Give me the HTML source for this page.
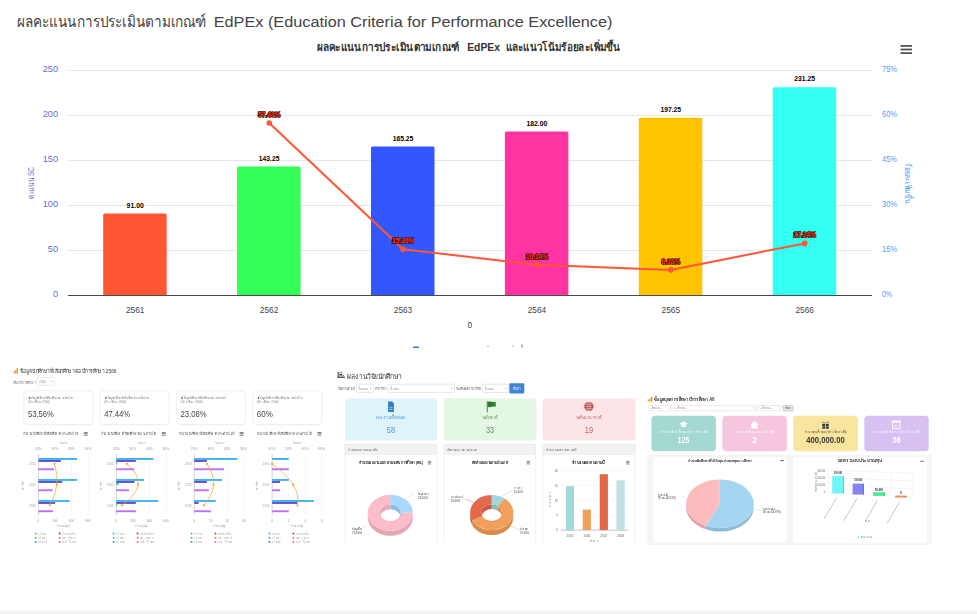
<!DOCTYPE html>
<html><head><meta charset="utf-8">
<style>
html,body{margin:0;padding:0;background:#fff;width:977px;height:614px;overflow:hidden;}
svg{display:block;font-family:"Liberation Sans",sans-serif;}
</style></head>
<body>
<svg width="977" height="614" viewBox="0 0 977 614">
<rect x="0" y="0" width="977" height="614" fill="#fff"/>
<rect x="0" y="610" width="977" height="1" fill="#f8f8f8"/>
<rect x="0" y="611" width="977" height="3" fill="#f2f2f2"/>
<g id="main">
<text x="17.2" y="27.4" font-size="15.5" fill="#444" textLength="189.3" lengthAdjust="spacingAndGlyphs">ผลคะแนนการประเมินตามเกณฑ์</text>
<text x="213.7" y="27.4" font-size="15.5" fill="#444" textLength="398.8" lengthAdjust="spacingAndGlyphs">EdPEx (Education Criteria for Performance Excellence)</text>
<text x="317.2" y="51.2" font-size="11" font-weight="bold" fill="#333" textLength="141.8" lengthAdjust="spacingAndGlyphs">ผลคะแนนการประเมินตามเกณฑ์</text>
<text x="467.2" y="51.2" font-size="11" font-weight="bold" fill="#333" textLength="32.8" lengthAdjust="spacingAndGlyphs">EdPEx</text>
<text x="505.5" y="51.2" font-size="11" font-weight="bold" fill="#333" textLength="115" lengthAdjust="spacingAndGlyphs">และแนวโน้มร้อยละเพิ่มขึ้น</text>
<g fill="#555"><rect x="900.5" y="45" width="11.5" height="1.8"/><rect x="900.5" y="48.6" width="11.5" height="1.8"/><rect x="900.5" y="52.2" width="11.5" height="1.8"/></g>
<rect x="68" y="70.0" width="804" height="1" fill="#e6e6e6"/>
<rect x="68" y="115.0" width="804" height="1" fill="#e6e6e6"/>
<rect x="68" y="160.0" width="804" height="1" fill="#e6e6e6"/>
<rect x="68" y="205.0" width="804" height="1" fill="#e6e6e6"/>
<rect x="68" y="250.0" width="804" height="1" fill="#e6e6e6"/>
<text x="58" y="72.3" font-size="9.2" fill="#6a6acd" text-anchor="end">250</text>
<text x="882" y="72.3" font-size="9.2" fill="#4d9ff5" textLength="15.0" lengthAdjust="spacingAndGlyphs">75%</text>
<text x="58" y="117.3" font-size="9.2" fill="#6a6acd" text-anchor="end">200</text>
<text x="882" y="117.3" font-size="9.2" fill="#4d9ff5" textLength="15.0" lengthAdjust="spacingAndGlyphs">60%</text>
<text x="58" y="162.3" font-size="9.2" fill="#6a6acd" text-anchor="end">150</text>
<text x="882" y="162.3" font-size="9.2" fill="#4d9ff5" textLength="15.0" lengthAdjust="spacingAndGlyphs">45%</text>
<text x="58" y="207.3" font-size="9.2" fill="#6a6acd" text-anchor="end">100</text>
<text x="882" y="207.3" font-size="9.2" fill="#4d9ff5" textLength="15.0" lengthAdjust="spacingAndGlyphs">30%</text>
<text x="58" y="252.3" font-size="9.2" fill="#6a6acd" text-anchor="end">50</text>
<text x="882" y="252.3" font-size="9.2" fill="#4d9ff5" textLength="15.0" lengthAdjust="spacingAndGlyphs">15%</text>
<text x="58" y="297.3" font-size="9.2" fill="#6a6acd" text-anchor="end">0</text>
<text x="882" y="297.3" font-size="9.2" fill="#4d9ff5" textLength="10.0" lengthAdjust="spacingAndGlyphs">0%</text>
<text transform="translate(34.2,183) rotate(-90)" font-size="8.5" fill="#6a6acd" text-anchor="middle" textLength="31.8" lengthAdjust="spacingAndGlyphs">คะแนน SC</text>
<text transform="translate(904.6,183) rotate(90)" font-size="8.5" fill="#4d9ff5" text-anchor="middle" textLength="40.5" lengthAdjust="spacingAndGlyphs">ร้อยละเพิ่มขึ้น</text>
<path d="M103.2 295.5 V214.90 Q103.2 213.40 104.7 213.40 H165.2 Q166.7 213.40 166.7 214.90 V295.5 Z" fill="#ff5733"/>
<path d="M237.1 295.5 V167.88 Q237.1 166.38 238.6 166.38 H299.1 Q300.6 166.38 300.6 167.88 V295.5 Z" fill="#33ff57"/>
<path d="M371.0 295.5 V148.08 Q371.0 146.58 372.5 146.58 H433.0 Q434.5 146.58 434.5 148.08 V295.5 Z" fill="#3357ff"/>
<path d="M504.9 295.5 V133.00 Q504.9 131.50 506.4 131.50 H566.9 Q568.4 131.50 568.4 133.00 V295.5 Z" fill="#ff33a1"/>
<path d="M638.8 295.5 V119.28 Q638.8 117.78 640.3 117.78 H700.8 Q702.3 117.78 702.3 119.28 V295.5 Z" fill="#ffc300"/>
<path d="M772.7 295.5 V88.68 Q772.7 87.18 774.2 87.18 H834.7 Q836.2 87.18 836.2 88.68 V295.5 Z" fill="#33fff3"/>
<rect x="68" y="295" width="804" height="1" fill="#4a4a4a"/>
<text x="135.2" y="312.6" font-size="8.3" fill="#444" text-anchor="middle">2561</text>
<text x="269.1" y="312.6" font-size="8.3" fill="#444" text-anchor="middle">2562</text>
<text x="403.0" y="312.6" font-size="8.3" fill="#444" text-anchor="middle">2563</text>
<text x="536.9" y="312.6" font-size="8.3" fill="#444" text-anchor="middle">2564</text>
<text x="670.8" y="312.6" font-size="8.3" fill="#444" text-anchor="middle">2565</text>
<text x="804.7" y="312.6" font-size="8.3" fill="#444" text-anchor="middle">2566</text>
<text x="469.7" y="328" font-size="8.3" fill="#444" text-anchor="middle">0</text>
<text x="135.2" y="207.6" font-size="7.5" font-weight="bold" fill="#000" text-anchor="middle" stroke="#fff" stroke-width="1.5" paint-order="stroke" textLength="17.2" lengthAdjust="spacingAndGlyphs">91.00</text>
<text x="269.1" y="160.6" font-size="7.5" font-weight="bold" fill="#000" text-anchor="middle" stroke="#fff" stroke-width="1.5" paint-order="stroke" textLength="20.7" lengthAdjust="spacingAndGlyphs">143.25</text>
<text x="403.0" y="140.8" font-size="7.5" font-weight="bold" fill="#000" text-anchor="middle" stroke="#fff" stroke-width="1.5" paint-order="stroke" textLength="20.7" lengthAdjust="spacingAndGlyphs">165.25</text>
<text x="536.9" y="125.7" font-size="7.5" font-weight="bold" fill="#000" text-anchor="middle" stroke="#fff" stroke-width="1.5" paint-order="stroke" textLength="20.7" lengthAdjust="spacingAndGlyphs">182.00</text>
<text x="670.8" y="112.0" font-size="7.5" font-weight="bold" fill="#000" text-anchor="middle" stroke="#fff" stroke-width="1.5" paint-order="stroke" textLength="20.7" lengthAdjust="spacingAndGlyphs">197.25</text>
<text x="804.7" y="81.4" font-size="7.5" font-weight="bold" fill="#000" text-anchor="middle" stroke="#fff" stroke-width="1.5" paint-order="stroke" textLength="20.7" lengthAdjust="spacingAndGlyphs">231.25</text>
<polyline points="269.2,123 403,249.2 536.9,264.8 670.8,269.9 804.7,243.4" fill="none" stroke="#ff5733" stroke-width="2"/>
<circle cx="269.2" cy="123" r="2.8" fill="#ff5733"/>
<circle cx="403" cy="249.2" r="2.8" fill="#ff5733"/>
<circle cx="536.9" cy="264.8" r="2.8" fill="#ff5733"/>
<circle cx="670.8" cy="269.9" r="2.8" fill="#ff5733"/>
<circle cx="804.7" cy="243.4" r="2.8" fill="#ff5733"/>
<text x="269.2" y="116.8" font-size="7.5" font-weight="bold" fill="#ff3a1a" text-anchor="middle" stroke="#3a0a00" stroke-width="1.6" paint-order="stroke" textLength="22.2" lengthAdjust="spacingAndGlyphs">57.43%</text>
<text x="403" y="243.0" font-size="7.5" font-weight="bold" fill="#ff3a1a" text-anchor="middle" stroke="#3a0a00" stroke-width="1.6" paint-order="stroke" textLength="22.2" lengthAdjust="spacingAndGlyphs">15.36%</text>
<text x="536.9" y="258.6" font-size="7.5" font-weight="bold" fill="#ff3a1a" text-anchor="middle" stroke="#3a0a00" stroke-width="1.6" paint-order="stroke" textLength="22.2" lengthAdjust="spacingAndGlyphs">10.14%</text>
<text x="670.8" y="263.7" font-size="7.5" font-weight="bold" fill="#ff3a1a" text-anchor="middle" stroke="#3a0a00" stroke-width="1.6" paint-order="stroke" textLength="18.5" lengthAdjust="spacingAndGlyphs">8.38%</text>
<text x="804.7" y="237.2" font-size="7.5" font-weight="bold" fill="#ff3a1a" text-anchor="middle" stroke="#3a0a00" stroke-width="1.6" paint-order="stroke" textLength="22.2" lengthAdjust="spacingAndGlyphs">17.24%</text>
<rect x="413" y="346.5" width="6" height="1.5" fill="#2f7ed8"/>
<rect x="487.5" y="346" width="1" height="1" fill="#777"/>
<rect x="512.5" y="345.5" width="1" height="1.2" fill="#777"/>
<rect x="521.5" y="344.5" width="1.2" height="3" fill="#888"/>
</g>
<defs><filter id="soft" x="-2%" y="-2%" width="104%" height="104%"><feGaussianBlur stdDeviation="0.28"/></filter></defs>
<g id="thumbA" filter="url(#soft)">
<rect x="13.6" y="371.3" width="1.3" height="2.2" fill="#f7941d"/>
<rect x="15.1" y="369.8" width="1.3" height="3.7" fill="#f7941d"/>
<rect x="16.6" y="368.2" width="1.4" height="5.3" fill="#f7941d"/>
<text x="19.5" y="373.0" font-size="5.4" fill="#333" textLength="97.0" lengthAdjust="spacingAndGlyphs">ข้อมูลนักศึกษาที่เลือกศึกษาต่อ ปีการศึกษา 2566</text>
<text x="13.0" y="383.5" font-size="3.8" fill="#888" textLength="23.0" lengthAdjust="spacingAndGlyphs">เลือกปีการศึกษา</text>
<rect x="37.2" y="377.3" width="17.0" height="8.0" fill="#fff" rx="1" stroke="#ddd" stroke-width="0.6"/>
<text x="39.0" y="383.0" font-size="3.5" fill="#999" textLength="7.0" lengthAdjust="spacingAndGlyphs">2566</text>
<path d="M50.3 380.6 l1 1 l1 -1" fill="none" stroke="#777" stroke-width="0.4"/>
<rect x="24.0" y="391.6" width="69.3" height="33.6" fill="#f0f0f0" rx="4"/>
<rect x="23.7" y="390.8" width="69.3" height="33.6" fill="#fff" rx="4" stroke="#e6e6e6" stroke-width="0.6"/>
<path d="M28.2 399 L30.2 395.5 L30.2 399 Z" fill="#777"/>
<text x="31.2" y="398.6" font-size="3.6" fill="#777" textLength="42.0" lengthAdjust="spacingAndGlyphs">ข้อมูลนักศึกษาที่เลือกศึกษาต่อ ระดับ ปวช.</text>
<text x="28.0" y="402.6" font-size="3.6" fill="#888" textLength="22.0" lengthAdjust="spacingAndGlyphs">(ปีการศึกษา 2566)</text>
<text x="27.9" y="416.5" font-size="9.2" fill="#444" textLength="26.0" lengthAdjust="spacingAndGlyphs">53.56%</text>
<text x="23.0" y="435.3" font-size="3.9" fill="#555" textLength="56.0" lengthAdjust="spacingAndGlyphs">จำนวนนักศึกษาที่เลือกศึกษาต่อ ระดับ ปวช.</text>
<rect x="83.8" y="432.0" width="4.0" height="0.7" fill="#555"/>
<rect x="83.8" y="433.4" width="4.0" height="0.7" fill="#555"/>
<rect x="83.8" y="434.8" width="4.0" height="0.7" fill="#555"/>
<text x="63.4" y="444.2" font-size="3.2" fill="#9ab" text-anchor="middle" textLength="9.0" lengthAdjust="spacingAndGlyphs">ร้อยละ</text>
<text x="38.4" y="449.8" font-size="3.2" fill="#999" text-anchor="middle" textLength="7.0" lengthAdjust="spacingAndGlyphs">20%</text>
<text x="54.9" y="449.8" font-size="3.2" fill="#999" text-anchor="middle" textLength="7.0" lengthAdjust="spacingAndGlyphs">30%</text>
<text x="71.4" y="449.8" font-size="3.2" fill="#999" text-anchor="middle" textLength="7.0" lengthAdjust="spacingAndGlyphs">40%</text>
<text x="87.9" y="449.8" font-size="3.2" fill="#999" text-anchor="middle" textLength="7.0" lengthAdjust="spacingAndGlyphs">50%</text>
<rect x="54.9" y="454.0" width="0.4" height="61.0" fill="#ececec"/>
<rect x="71.4" y="454.0" width="0.4" height="61.0" fill="#ececec"/>
<rect x="87.9" y="454.0" width="0.4" height="61.0" fill="#ececec"/>
<rect x="38.0" y="454.0" width="0.8" height="61.2" fill="#c8c8c8"/>
<rect x="38.4" y="458.0" width="38.6" height="1.9" fill="#3fb1f5"/>
<rect x="38.4" y="460.0" width="22.4" height="1.9" fill="#5b4fcf"/>
<rect x="38.4" y="468.3" width="15.6" height="1.9" fill="#c36cf0"/>
<text x="35.9" y="465.3" font-size="3.2" fill="#aaa" text-anchor="end" textLength="7.0" lengthAdjust="spacingAndGlyphs">2564</text>
<rect x="38.4" y="479.0" width="38.6" height="1.9" fill="#3fb1f5"/>
<rect x="38.4" y="481.0" width="23.9" height="1.9" fill="#5b4fcf"/>
<rect x="38.4" y="489.3" width="14.2" height="1.9" fill="#c36cf0"/>
<text x="35.9" y="486.3" font-size="3.2" fill="#aaa" text-anchor="end" textLength="7.0" lengthAdjust="spacingAndGlyphs">2565</text>
<rect x="38.4" y="500.0" width="31.2" height="1.9" fill="#3fb1f5"/>
<rect x="38.4" y="502.0" width="16.6" height="1.9" fill="#5b4fcf"/>
<rect x="38.4" y="510.3" width="14.6" height="1.9" fill="#c36cf0"/>
<text x="35.9" y="507.3" font-size="3.2" fill="#aaa" text-anchor="end" textLength="7.0" lengthAdjust="spacingAndGlyphs">2566</text>
<path d="M54.5 463.8 Q61.7 484.7 49.7 505.3" fill="none" stroke="#f5a623" stroke-width="0.7"/>
<circle cx="54.5" cy="463.8" r="1.1" fill="#f5a623"/>
<circle cx="56.9" cy="484.7" r="1.1" fill="#f5a623"/>
<circle cx="49.7" cy="505.3" r="1.1" fill="#f5a623"/>
<text x="38.4" y="522.2" font-size="3.2" fill="#999" text-anchor="middle">0</text>
<text x="54.9" y="522.2" font-size="3.2" fill="#999" text-anchor="middle">200</text>
<text x="71.4" y="522.2" font-size="3.2" fill="#999" text-anchor="middle">400</text>
<text x="87.9" y="522.2" font-size="3.2" fill="#999" text-anchor="middle">600</text>
<text x="63.4" y="527.0" font-size="3.2" fill="#888" text-anchor="middle" textLength="12.0" lengthAdjust="spacingAndGlyphs">จำนวน (คน)</text>
<text x="24.2" y="485.0" font-size="3" fill="#999" text-anchor="middle" textLength="10.0" lengthAdjust="spacingAndGlyphs" transform="rotate(-90 24.2 485)">ปีการศึกษา</text>
<circle cx="35.7" cy="533.4" r="1" fill="#3fb1f5"/>
<text x="38.2" y="534.5" font-size="3.1" fill="#aaa" textLength="9.0" lengthAdjust="spacingAndGlyphs">ปวช.</text>
<circle cx="59.7" cy="533.4" r="1" fill="#5b4fcf"/>
<text x="62.2" y="534.5" font-size="3.1" fill="#aaa" textLength="14.0" lengthAdjust="spacingAndGlyphs">ป.ตรีต่อเนื่อง</text>
<circle cx="35.7" cy="537.7" r="1" fill="#2ed573"/>
<text x="38.2" y="538.8" font-size="3.1" fill="#aaa" textLength="9.0" lengthAdjust="spacingAndGlyphs">ปวส.</text>
<circle cx="59.7" cy="537.7" r="1" fill="#ff6a3d"/>
<text x="62.2" y="538.8" font-size="3.1" fill="#aaa" textLength="14.0" lengthAdjust="spacingAndGlyphs">สาขา</text>
<circle cx="35.7" cy="542.0" r="1" fill="#5a7fcf"/>
<text x="38.2" y="543.1" font-size="3.1" fill="#aaa" textLength="9.0" lengthAdjust="spacingAndGlyphs">ป.ตรี</text>
<circle cx="59.7" cy="542.0" r="1" fill="#c36cf0"/>
<text x="62.2" y="543.1" font-size="3.1" fill="#aaa" textLength="14.0" lengthAdjust="spacingAndGlyphs">ป.โท</text>
<rect x="100.3" y="391.6" width="69.3" height="33.6" fill="#f0f0f0" rx="4"/>
<rect x="100.0" y="390.8" width="69.3" height="33.6" fill="#fff" rx="4" stroke="#e6e6e6" stroke-width="0.6"/>
<path d="M104.5 399 L106.5 395.5 L106.5 399 Z" fill="#777"/>
<text x="107.5" y="398.6" font-size="3.6" fill="#777" textLength="42.0" lengthAdjust="spacingAndGlyphs">ข้อมูลนักศึกษาที่เลือกศึกษาต่อ ระดับ ปวส.</text>
<text x="104.3" y="402.6" font-size="3.6" fill="#888" textLength="22.0" lengthAdjust="spacingAndGlyphs">(ปีการศึกษา 2566)</text>
<text x="104.2" y="416.5" font-size="9.2" fill="#444" textLength="26.0" lengthAdjust="spacingAndGlyphs">47.44%</text>
<text x="100.9" y="435.3" font-size="3.9" fill="#555" textLength="56.0" lengthAdjust="spacingAndGlyphs">จำนวนนักศึกษาที่เลือกศึกษาต่อ ระดับ ปวส.</text>
<rect x="161.7" y="432.0" width="4.0" height="0.7" fill="#555"/>
<rect x="161.7" y="433.4" width="4.0" height="0.7" fill="#555"/>
<rect x="161.7" y="434.8" width="4.0" height="0.7" fill="#555"/>
<text x="141.3" y="444.2" font-size="3.2" fill="#9ab" text-anchor="middle" textLength="9.0" lengthAdjust="spacingAndGlyphs">ร้อยละ</text>
<text x="116.3" y="449.8" font-size="3.2" fill="#999" text-anchor="middle" textLength="7.0" lengthAdjust="spacingAndGlyphs">20%</text>
<text x="132.8" y="449.8" font-size="3.2" fill="#999" text-anchor="middle" textLength="7.0" lengthAdjust="spacingAndGlyphs">30%</text>
<text x="149.3" y="449.8" font-size="3.2" fill="#999" text-anchor="middle" textLength="7.0" lengthAdjust="spacingAndGlyphs">40%</text>
<text x="165.8" y="449.8" font-size="3.2" fill="#999" text-anchor="middle" textLength="7.0" lengthAdjust="spacingAndGlyphs">50%</text>
<rect x="132.8" y="454.0" width="0.4" height="61.0" fill="#ececec"/>
<rect x="149.3" y="454.0" width="0.4" height="61.0" fill="#ececec"/>
<rect x="165.8" y="454.0" width="0.4" height="61.0" fill="#ececec"/>
<rect x="115.9" y="454.0" width="0.8" height="61.2" fill="#c8c8c8"/>
<rect x="116.3" y="458.0" width="37.1" height="1.9" fill="#3fb1f5"/>
<rect x="116.3" y="460.0" width="19.5" height="1.9" fill="#5b4fcf"/>
<rect x="116.3" y="462.0" width="1.0" height="1.9" fill="#2ed573"/>
<rect x="116.3" y="468.3" width="17.9" height="1.9" fill="#c36cf0"/>
<text x="113.8" y="465.3" font-size="3.2" fill="#aaa" text-anchor="end" textLength="7.0" lengthAdjust="spacingAndGlyphs">2564</text>
<rect x="116.3" y="479.0" width="27.9" height="1.9" fill="#3fb1f5"/>
<rect x="116.3" y="481.0" width="18.1" height="1.9" fill="#5b4fcf"/>
<rect x="116.3" y="483.0" width="2.5" height="1.9" fill="#2ed573"/>
<rect x="116.3" y="489.3" width="12.7" height="1.9" fill="#c36cf0"/>
<text x="113.8" y="486.3" font-size="3.2" fill="#aaa" text-anchor="end" textLength="7.0" lengthAdjust="spacingAndGlyphs">2565</text>
<rect x="116.3" y="500.0" width="42.0" height="1.9" fill="#3fb1f5"/>
<rect x="116.3" y="502.0" width="19.5" height="1.9" fill="#5b4fcf"/>
<rect x="116.3" y="504.0" width="1.0" height="1.9" fill="#2ed573"/>
<rect x="116.3" y="510.3" width="19.5" height="1.9" fill="#c36cf0"/>
<text x="113.8" y="507.3" font-size="3.2" fill="#aaa" text-anchor="end" textLength="7.0" lengthAdjust="spacingAndGlyphs">2566</text>
<path d="M127.0 463.8 Q151.9 484.7 121.7 505.3" fill="none" stroke="#f5a623" stroke-width="0.7"/>
<circle cx="127.0" cy="463.8" r="1.1" fill="#f5a623"/>
<circle cx="138.1" cy="484.7" r="1.1" fill="#f5a623"/>
<circle cx="121.7" cy="505.3" r="1.1" fill="#f5a623"/>
<text x="116.3" y="522.2" font-size="3.2" fill="#999" text-anchor="middle">0</text>
<text x="132.8" y="522.2" font-size="3.2" fill="#999" text-anchor="middle">200</text>
<text x="149.3" y="522.2" font-size="3.2" fill="#999" text-anchor="middle">400</text>
<text x="165.8" y="522.2" font-size="3.2" fill="#999" text-anchor="middle">600</text>
<text x="141.3" y="527.0" font-size="3.2" fill="#888" text-anchor="middle" textLength="12.0" lengthAdjust="spacingAndGlyphs">จำนวน (คน)</text>
<text x="102.1" y="485.0" font-size="3" fill="#999" text-anchor="middle" textLength="10.0" lengthAdjust="spacingAndGlyphs" transform="rotate(-90 102.1 485)">ปีการศึกษา</text>
<circle cx="113.6" cy="533.4" r="1" fill="#3fb1f5"/>
<text x="116.1" y="534.5" font-size="3.1" fill="#aaa" textLength="9.0" lengthAdjust="spacingAndGlyphs">ปวช.</text>
<circle cx="137.6" cy="533.4" r="1" fill="#5b4fcf"/>
<text x="140.1" y="534.5" font-size="3.1" fill="#aaa" textLength="14.0" lengthAdjust="spacingAndGlyphs">ป.ตรีต่อเนื่อง</text>
<circle cx="113.6" cy="537.7" r="1" fill="#2ed573"/>
<text x="116.1" y="538.8" font-size="3.1" fill="#aaa" textLength="9.0" lengthAdjust="spacingAndGlyphs">ปวส.</text>
<circle cx="137.6" cy="537.7" r="1" fill="#ff6a3d"/>
<text x="140.1" y="538.8" font-size="3.1" fill="#aaa" textLength="14.0" lengthAdjust="spacingAndGlyphs">สาขา</text>
<circle cx="113.6" cy="542.0" r="1" fill="#5a7fcf"/>
<text x="116.1" y="543.1" font-size="3.1" fill="#aaa" textLength="9.0" lengthAdjust="spacingAndGlyphs">ป.ตรี</text>
<circle cx="137.6" cy="542.0" r="1" fill="#c36cf0"/>
<text x="140.1" y="543.1" font-size="3.1" fill="#aaa" textLength="14.0" lengthAdjust="spacingAndGlyphs">ป.โท</text>
<rect x="176.6" y="391.6" width="69.3" height="33.6" fill="#f0f0f0" rx="4"/>
<rect x="176.3" y="390.8" width="69.3" height="33.6" fill="#fff" rx="4" stroke="#e6e6e6" stroke-width="0.6"/>
<path d="M180.8 399 L182.8 395.5 L182.8 399 Z" fill="#777"/>
<text x="183.8" y="398.6" font-size="3.6" fill="#777" textLength="42.0" lengthAdjust="spacingAndGlyphs">ข้อมูลนักศึกษาที่เลือกศึกษาต่อ ระดับ ป.ตรี</text>
<text x="180.6" y="402.6" font-size="3.6" fill="#888" textLength="22.0" lengthAdjust="spacingAndGlyphs">(ปีการศึกษา 2566)</text>
<text x="180.5" y="416.5" font-size="9.2" fill="#444" textLength="26.0" lengthAdjust="spacingAndGlyphs">23.08%</text>
<text x="178.8" y="435.3" font-size="3.9" fill="#555" textLength="56.0" lengthAdjust="spacingAndGlyphs">จำนวนนักศึกษาที่เลือกศึกษาต่อ ระดับ ป.ตรี</text>
<rect x="239.6" y="432.0" width="4.0" height="0.7" fill="#555"/>
<rect x="239.6" y="433.4" width="4.0" height="0.7" fill="#555"/>
<rect x="239.6" y="434.8" width="4.0" height="0.7" fill="#555"/>
<text x="219.2" y="444.2" font-size="3.2" fill="#9ab" text-anchor="middle" textLength="9.0" lengthAdjust="spacingAndGlyphs">ร้อยละ</text>
<text x="194.2" y="449.8" font-size="3.2" fill="#999" text-anchor="middle" textLength="7.0" lengthAdjust="spacingAndGlyphs">20%</text>
<text x="210.7" y="449.8" font-size="3.2" fill="#999" text-anchor="middle" textLength="7.0" lengthAdjust="spacingAndGlyphs">30%</text>
<text x="227.2" y="449.8" font-size="3.2" fill="#999" text-anchor="middle" textLength="7.0" lengthAdjust="spacingAndGlyphs">40%</text>
<text x="243.7" y="449.8" font-size="3.2" fill="#999" text-anchor="middle" textLength="7.0" lengthAdjust="spacingAndGlyphs">50%</text>
<rect x="210.7" y="454.0" width="0.4" height="61.0" fill="#ececec"/>
<rect x="227.2" y="454.0" width="0.4" height="61.0" fill="#ececec"/>
<rect x="243.7" y="454.0" width="0.4" height="61.0" fill="#ececec"/>
<rect x="193.8" y="454.0" width="0.8" height="61.2" fill="#c8c8c8"/>
<rect x="194.2" y="458.0" width="43.2" height="1.9" fill="#3fb1f5"/>
<rect x="194.2" y="460.0" width="12.7" height="1.9" fill="#5b4fcf"/>
<rect x="194.2" y="468.3" width="29.9" height="1.9" fill="#c36cf0"/>
<text x="191.7" y="465.3" font-size="3.2" fill="#aaa" text-anchor="end" textLength="7.0" lengthAdjust="spacingAndGlyphs">2564</text>
<rect x="194.2" y="479.0" width="27.9" height="1.9" fill="#3fb1f5"/>
<rect x="194.2" y="481.0" width="12.7" height="1.9" fill="#5b4fcf"/>
<rect x="194.2" y="489.3" width="14.7" height="1.9" fill="#c36cf0"/>
<text x="191.7" y="486.3" font-size="3.2" fill="#aaa" text-anchor="end" textLength="7.0" lengthAdjust="spacingAndGlyphs">2565</text>
<rect x="194.2" y="500.0" width="21.6" height="1.9" fill="#3fb1f5"/>
<rect x="194.2" y="502.0" width="4.4" height="1.9" fill="#5b4fcf"/>
<rect x="194.2" y="510.3" width="16.6" height="1.9" fill="#c36cf0"/>
<text x="191.7" y="507.3" font-size="3.2" fill="#aaa" text-anchor="end" textLength="7.0" lengthAdjust="spacingAndGlyphs">2566</text>
<path d="M206.9 463.8 Q221.8 484.7 203.9 505.3" fill="none" stroke="#f5a623" stroke-width="0.7"/>
<circle cx="206.9" cy="463.8" r="1.1" fill="#f5a623"/>
<circle cx="213.6" cy="484.7" r="1.1" fill="#f5a623"/>
<circle cx="203.9" cy="505.3" r="1.1" fill="#f5a623"/>
<text x="194.2" y="522.2" font-size="3.2" fill="#999" text-anchor="middle">0</text>
<text x="210.7" y="522.2" font-size="3.2" fill="#999" text-anchor="middle">10</text>
<text x="227.2" y="522.2" font-size="3.2" fill="#999" text-anchor="middle">20</text>
<text x="243.7" y="522.2" font-size="3.2" fill="#999" text-anchor="middle">30</text>
<text x="219.2" y="527.0" font-size="3.2" fill="#888" text-anchor="middle" textLength="12.0" lengthAdjust="spacingAndGlyphs">จำนวน (คน)</text>
<text x="180.0" y="485.0" font-size="3" fill="#999" text-anchor="middle" textLength="10.0" lengthAdjust="spacingAndGlyphs" transform="rotate(-90 180.0 485)">ปีการศึกษา</text>
<circle cx="191.5" cy="533.4" r="1" fill="#3fb1f5"/>
<text x="194.0" y="534.5" font-size="3.1" fill="#aaa" textLength="9.0" lengthAdjust="spacingAndGlyphs">ปวช.</text>
<circle cx="215.5" cy="533.4" r="1" fill="#5b4fcf"/>
<text x="218.0" y="534.5" font-size="3.1" fill="#aaa" textLength="14.0" lengthAdjust="spacingAndGlyphs">ป.ตรีต่อเนื่อง</text>
<circle cx="191.5" cy="537.7" r="1" fill="#2ed573"/>
<text x="194.0" y="538.8" font-size="3.1" fill="#aaa" textLength="9.0" lengthAdjust="spacingAndGlyphs">ปวส.</text>
<circle cx="215.5" cy="537.7" r="1" fill="#ff6a3d"/>
<text x="218.0" y="538.8" font-size="3.1" fill="#aaa" textLength="14.0" lengthAdjust="spacingAndGlyphs">สาขา</text>
<circle cx="191.5" cy="542.0" r="1" fill="#5a7fcf"/>
<text x="194.0" y="543.1" font-size="3.1" fill="#aaa" textLength="9.0" lengthAdjust="spacingAndGlyphs">ป.ตรี</text>
<circle cx="215.5" cy="542.0" r="1" fill="#c36cf0"/>
<text x="218.0" y="543.1" font-size="3.1" fill="#aaa" textLength="14.0" lengthAdjust="spacingAndGlyphs">ป.โท</text>
<rect x="252.9" y="391.6" width="69.3" height="33.6" fill="#f0f0f0" rx="4"/>
<rect x="252.6" y="390.8" width="69.3" height="33.6" fill="#fff" rx="4" stroke="#e6e6e6" stroke-width="0.6"/>
<path d="M257.1 399 L259.1 395.5 L259.1 399 Z" fill="#777"/>
<text x="260.1" y="398.6" font-size="3.6" fill="#777" textLength="42.0" lengthAdjust="spacingAndGlyphs">ข้อมูลนักศึกษาที่เลือกศึกษาต่อ ระดับ ป.โท</text>
<text x="256.9" y="402.6" font-size="3.6" fill="#888" textLength="22.0" lengthAdjust="spacingAndGlyphs">(ปีการศึกษา 2566)</text>
<text x="256.8" y="416.5" font-size="9.2" fill="#444" textLength="16.0" lengthAdjust="spacingAndGlyphs">60%</text>
<text x="256.7" y="435.3" font-size="3.9" fill="#555" textLength="56.0" lengthAdjust="spacingAndGlyphs">จำนวนนักศึกษาที่เลือกศึกษาต่อ ระดับ ป.โท</text>
<rect x="317.5" y="432.0" width="4.0" height="0.7" fill="#555"/>
<rect x="317.5" y="433.4" width="4.0" height="0.7" fill="#555"/>
<rect x="317.5" y="434.8" width="4.0" height="0.7" fill="#555"/>
<text x="297.1" y="444.2" font-size="3.2" fill="#9ab" text-anchor="middle" textLength="9.0" lengthAdjust="spacingAndGlyphs">ร้อยละ</text>
<text x="272.1" y="449.8" font-size="3.2" fill="#999" text-anchor="middle" textLength="7.0" lengthAdjust="spacingAndGlyphs">0%</text>
<text x="288.6" y="449.8" font-size="3.2" fill="#999" text-anchor="middle" textLength="7.0" lengthAdjust="spacingAndGlyphs">20%</text>
<text x="305.1" y="449.8" font-size="3.2" fill="#999" text-anchor="middle" textLength="7.0" lengthAdjust="spacingAndGlyphs">40%</text>
<text x="321.6" y="449.8" font-size="3.2" fill="#999" text-anchor="middle" textLength="7.0" lengthAdjust="spacingAndGlyphs">60%</text>
<rect x="288.6" y="454.0" width="0.4" height="61.0" fill="#ececec"/>
<rect x="305.1" y="454.0" width="0.4" height="61.0" fill="#ececec"/>
<rect x="321.6" y="454.0" width="0.4" height="61.0" fill="#ececec"/>
<rect x="271.7" y="454.0" width="0.8" height="61.2" fill="#c8c8c8"/>
<rect x="272.1" y="458.0" width="16.6" height="1.9" fill="#3fb1f5"/>
<rect x="272.1" y="468.3" width="16.6" height="1.9" fill="#c36cf0"/>
<text x="269.6" y="465.3" font-size="3.2" fill="#aaa" text-anchor="end" textLength="7.0" lengthAdjust="spacingAndGlyphs">2564</text>
<rect x="272.1" y="479.0" width="16.6" height="1.9" fill="#3fb1f5"/>
<rect x="272.1" y="481.0" width="8.0" height="1.9" fill="#5b4fcf"/>
<rect x="272.1" y="489.3" width="8.0" height="1.9" fill="#c36cf0"/>
<text x="269.6" y="486.3" font-size="3.2" fill="#aaa" text-anchor="end" textLength="7.0" lengthAdjust="spacingAndGlyphs">2565</text>
<rect x="272.1" y="500.0" width="42.0" height="1.9" fill="#3fb1f5"/>
<rect x="272.1" y="502.0" width="25.4" height="1.9" fill="#5b4fcf"/>
<rect x="272.1" y="510.3" width="16.6" height="1.9" fill="#c36cf0"/>
<text x="269.6" y="507.3" font-size="3.2" fill="#aaa" text-anchor="end" textLength="7.0" lengthAdjust="spacingAndGlyphs">2566</text>
<path d="M272.1 463.8 Q301.6 484.7 297.5 505.3" fill="none" stroke="#f5a623" stroke-width="0.7"/>
<circle cx="272.1" cy="463.8" r="1.1" fill="#f5a623"/>
<circle cx="293.2" cy="484.7" r="1.1" fill="#f5a623"/>
<circle cx="297.5" cy="505.3" r="1.1" fill="#f5a623"/>
<text x="272.1" y="522.2" font-size="3.2" fill="#999" text-anchor="middle">0</text>
<text x="288.6" y="522.2" font-size="3.2" fill="#999" text-anchor="middle">2</text>
<text x="305.1" y="522.2" font-size="3.2" fill="#999" text-anchor="middle">4</text>
<text x="321.6" y="522.2" font-size="3.2" fill="#999" text-anchor="middle">6</text>
<text x="297.1" y="527.0" font-size="3.2" fill="#888" text-anchor="middle" textLength="12.0" lengthAdjust="spacingAndGlyphs">จำนวน (คน)</text>
<text x="257.9" y="485.0" font-size="3" fill="#999" text-anchor="middle" textLength="10.0" lengthAdjust="spacingAndGlyphs" transform="rotate(-90 257.9 485)">ปีการศึกษา</text>
<circle cx="269.4" cy="533.4" r="1" fill="#3fb1f5"/>
<text x="271.9" y="534.5" font-size="3.1" fill="#aaa" textLength="9.0" lengthAdjust="spacingAndGlyphs">ปวช.</text>
<circle cx="293.4" cy="533.4" r="1" fill="#5b4fcf"/>
<text x="295.9" y="534.5" font-size="3.1" fill="#aaa" textLength="14.0" lengthAdjust="spacingAndGlyphs">ป.ตรีต่อเนื่อง</text>
<circle cx="269.4" cy="537.7" r="1" fill="#2ed573"/>
<text x="271.9" y="538.8" font-size="3.1" fill="#aaa" textLength="9.0" lengthAdjust="spacingAndGlyphs">ปวส.</text>
<circle cx="293.4" cy="537.7" r="1" fill="#ff6a3d"/>
<text x="295.9" y="538.8" font-size="3.1" fill="#aaa" textLength="14.0" lengthAdjust="spacingAndGlyphs">สาขา</text>
<circle cx="269.4" cy="542.0" r="1" fill="#5a7fcf"/>
<text x="271.9" y="543.1" font-size="3.1" fill="#aaa" textLength="9.0" lengthAdjust="spacingAndGlyphs">ป.ตรี</text>
<circle cx="293.4" cy="542.0" r="1" fill="#c36cf0"/>
<text x="295.9" y="543.1" font-size="3.1" fill="#aaa" textLength="14.0" lengthAdjust="spacingAndGlyphs">ป.โท</text>
</g>
<g id="thumbB" filter="url(#soft)">
<rect x="337.6" y="371.9" width="1.1" height="5.9" fill="#444"/>
<rect x="337.6" y="376.7" width="7.3" height="1.1" fill="#333"/>
<rect x="339.4" y="372.3" width="3.4" height="0.9" fill="#777"/>
<rect x="339.4" y="374.1" width="2.6" height="1.0" fill="#222"/>
<rect x="339.4" y="375.4" width="4.6" height="0.8" fill="#666"/>
<text x="347.3" y="378.6" font-size="7.4" fill="#333" textLength="54.7" lengthAdjust="spacingAndGlyphs">ผลงานวิจัยนักศึกษา</text>
<text x="338.0" y="389.8" font-size="3.8" fill="#666" textLength="17.0" lengthAdjust="spacingAndGlyphs">ปีผลงานตามปี</text>
<rect x="356.7" y="384.2" width="17.0" height="8.2" fill="#fff" rx="1" stroke="#d5d5d5" stroke-width="0.6"/>
<text x="358.5" y="389.5" font-size="3.5" fill="#999" textLength="9.0" lengthAdjust="spacingAndGlyphs">ทั้งหมด</text>
<path d="M369.8 387.8 l1 1 l1 -1" fill="none" stroke="#777" stroke-width="0.4"/>
<text x="375.0" y="389.8" font-size="3.8" fill="#666" textLength="11.5" lengthAdjust="spacingAndGlyphs">สาขาวิชา</text>
<rect x="388.1" y="384.2" width="66.4" height="8.2" fill="#fff" rx="1" stroke="#d5d5d5" stroke-width="0.6"/>
<text x="390.0" y="389.5" font-size="3.5" fill="#999" textLength="9.0" lengthAdjust="spacingAndGlyphs">ทั้งหมด</text>
<path d="M450.8 387.8 l1 1 l1 -1" fill="none" stroke="#777" stroke-width="0.4"/>
<text x="456.0" y="389.8" font-size="3.8" fill="#666" textLength="25.0" lengthAdjust="spacingAndGlyphs">ระดับผลงานวิจัย</text>
<rect x="482.7" y="384.2" width="25.7" height="8.2" fill="#fff" rx="1" stroke="#d5d5d5" stroke-width="0.6"/>
<text x="484.5" y="389.5" font-size="3.5" fill="#999" textLength="9.0" lengthAdjust="spacingAndGlyphs">ทั้งหมด</text>
<path d="M504.6 387.8 l1 1 l1 -1" fill="none" stroke="#777" stroke-width="0.4"/>
<rect x="509.4" y="383.3" width="14.9" height="10.3" fill="#3d86cf" rx="1"/>
<text x="516.9" y="389.8" font-size="3.8" fill="#fff" text-anchor="middle" textLength="8.0" lengthAdjust="spacingAndGlyphs">ค้นหา</text>
<rect x="345.3" y="399.3" width="91.8" height="41.3" fill="#ececec" rx="3"/>
<rect x="345.0" y="398.6" width="91.8" height="41.3" fill="#dff4fa" rx="3"/>
<text x="390.9" y="418.8" font-size="4.6" fill="#3b84c7" text-anchor="middle" textLength="29.0" lengthAdjust="spacingAndGlyphs" opacity="0.85">ผลงานทั้งหมด</text>
<text x="390.9" y="433.2" font-size="8.6" fill="#3b84c7" text-anchor="middle" textLength="8.2" lengthAdjust="spacingAndGlyphs" opacity="0.85">58</text>
<rect x="444.2" y="399.3" width="92.2" height="41.3" fill="#ececec" rx="3"/>
<rect x="443.9" y="398.6" width="92.2" height="41.3" fill="#e4f6e4" rx="3"/>
<text x="490.0" y="418.8" font-size="4.6" fill="#3f7f3a" text-anchor="middle" textLength="16.0" lengthAdjust="spacingAndGlyphs" opacity="0.85">ระดับชาติ</text>
<text x="490.0" y="433.2" font-size="8.6" fill="#3f7f3a" text-anchor="middle" textLength="8.2" lengthAdjust="spacingAndGlyphs" opacity="0.85">33</text>
<rect x="542.8" y="399.3" width="92.7" height="41.3" fill="#ececec" rx="3"/>
<rect x="542.5" y="398.6" width="92.7" height="41.3" fill="#fde5e7" rx="3"/>
<text x="588.9" y="418.8" font-size="4.6" fill="#a94442" text-anchor="middle" textLength="25.7" lengthAdjust="spacingAndGlyphs" opacity="0.85">ระดับนานาชาติ</text>
<text x="588.9" y="433.2" font-size="8.6" fill="#a94442" text-anchor="middle" textLength="8.2" lengthAdjust="spacingAndGlyphs" opacity="0.85">19</text>
<path d="M388.1 401.5 h4 l1.8 1.8 v8.8 h-5.8 Z" fill="#2f7fc4"/>
<rect x="389.3" y="407.5" width="3.2" height="0.6" fill="#dff4fa"/>
<rect x="389.3" y="409.0" width="3.2" height="0.6" fill="#dff4fa"/>
<rect x="486.8" y="401.3" width="0.9" height="11.0" fill="#2f7a2f"/>
<path d="M487.7 401.8 q2 -0.8 4 0 t4 0 v5 q-2 -0.8 -4 0 t-4 0 Z" fill="#2f7a2f"/>
<circle cx="588.9" cy="406.5" r="4.6" fill="#a8322f"/>
<path d="M584.2 406.5 h9.2 M588.9 401.9 v9.2 M584.9 404.2 h8 M584.9 408.8 h8" fill="none" stroke="#fde5e7" stroke-width="0.5"/>
<ellipse cx="588.9" cy="406.5" rx="2" ry="4.6" fill="none" stroke="#fde5e7" stroke-width="0.5"/>
<path d="M345 543 V444.5 H436.8 V543" fill="none" stroke="#e8e8e8" stroke-width="0.6"/>
<rect x="345.0" y="444.5" width="91.8" height="9.8" fill="#f2f2f2" stroke="#e8e8e8" stroke-width="0.6"/>
<text x="348.0" y="450.7" font-size="3.6" fill="#666" textLength="30.0" lengthAdjust="spacingAndGlyphs">จำนวนผลงานตามระดับ</text>
<rect x="427.8" y="460.8" width="3.4" height="0.7" fill="#666"/>
<rect x="427.8" y="462.2" width="3.4" height="0.7" fill="#666"/>
<rect x="427.8" y="463.6" width="3.4" height="0.7" fill="#666"/>
<path d="M444.1 543 V444.5 H535.6 V543" fill="none" stroke="#e8e8e8" stroke-width="0.6"/>
<rect x="444.1" y="444.5" width="91.5" height="9.8" fill="#f2f2f2" stroke="#e8e8e8" stroke-width="0.6"/>
<text x="447.1" y="450.7" font-size="3.6" fill="#666" textLength="30.0" lengthAdjust="spacingAndGlyphs">สัดส่วนผลงานตามประเภท</text>
<rect x="526.6" y="460.8" width="3.4" height="0.7" fill="#666"/>
<rect x="526.6" y="462.2" width="3.4" height="0.7" fill="#666"/>
<rect x="526.6" y="463.6" width="3.4" height="0.7" fill="#666"/>
<path d="M543 543 V444.5 H635.1 V543" fill="none" stroke="#e8e8e8" stroke-width="0.6"/>
<rect x="543.0" y="444.5" width="92.1" height="9.8" fill="#f2f2f2" stroke="#e8e8e8" stroke-width="0.6"/>
<text x="546.0" y="450.7" font-size="3.6" fill="#666" textLength="30.0" lengthAdjust="spacingAndGlyphs">จำนวนผลงานตามปี</text>
<rect x="626.1" y="460.8" width="3.4" height="0.7" fill="#666"/>
<rect x="626.1" y="462.2" width="3.4" height="0.7" fill="#666"/>
<rect x="626.1" y="463.6" width="3.4" height="0.7" fill="#666"/>
<text x="391.0" y="463.5" font-size="4.4" fill="#222" text-anchor="middle" font-weight="bold" textLength="64.0" lengthAdjust="spacingAndGlyphs">จำนวนผลงานแยกตามระดับการศึกษา (คน)</text>
<text x="489.8" y="463.5" font-size="4.4" fill="#222" text-anchor="middle" font-weight="bold" textLength="36.0" lengthAdjust="spacingAndGlyphs">สัดส่วนผลงานตามประเภท</text>
<text x="588.4" y="463.5" font-size="5" fill="#222" text-anchor="middle" font-weight="bold" textLength="33.0" lengthAdjust="spacingAndGlyphs">จำนวนผลงานตามปี</text>
<path d="M412.80 512.80 A22.5 18 0 0 1 367.80 512.80 L367.80 517.80 A22.5 18 0 0 0 412.80 517.80 Z" fill="#e6a5b3"/>
<path d="M390.30 494.80 A22.5 18 0 0 1 412.80 512.80 L400.60 512.80 A10.3 8.2 0 0 0 390.30 504.60 Z" fill="#a9d8fc"/>
<path d="M412.80 512.80 A22.5 18 0 1 1 390.30 494.80 L390.30 504.60 A10.3 8.2 0 1 0 400.60 512.80 Z" fill="#fbbdca"/>
<path d="M390.30 504.60 A10.3 8.2 0 0 1 400.60 512.80 L400.60 517.80 A10.3 8.2 0 0 0 390.30 509.60 Z" fill="#8cbde4"/>
<path d="M380.00 512.80 A10.3 8.2 0 0 1 390.30 504.60 L390.30 509.60 A10.3 8.2 0 0 0 380.00 517.80 Z" fill="#e8aab7"/>
<clipPath id="hc390"><ellipse cx="390.3" cy="512.8" rx="10.3" ry="8.2"/></clipPath>
<ellipse cx="390.3" cy="517.8" rx="10.3" ry="8.2" fill="#fff" clip-path="url(#hc390)"/>
<path d="M513.30 512.50 A21.6 17.6 0 0 1 472.29 520.22 L472.29 525.22 A21.6 17.6 0 0 0 513.30 517.50 Z" fill="#d98b4c"/>
<path d="M472.29 520.22 A21.6 17.6 0 0 1 470.10 512.50 L470.10 517.50 A21.6 17.6 0 0 0 472.29 525.22 Z" fill="#c9573e"/>
<path d="M491.70 494.90 A21.6 17.6 0 0 1 504.70 498.44 L497.90 505.95 A10.3 8.2 0 0 0 491.70 504.30 Z" fill="#9fd7da"/>
<path d="M504.70 498.44 A21.6 17.6 0 1 1 472.29 520.22 L482.44 516.09 A10.3 8.2 0 1 0 497.90 505.95 Z" fill="#f0a05c"/>
<path d="M472.29 520.22 A21.6 17.6 0 0 1 491.70 494.90 L491.70 504.30 A10.3 8.2 0 0 0 482.44 516.09 Z" fill="#e4694c"/>
<path d="M491.70 504.30 A10.3 8.2 0 0 1 497.90 505.95 L497.90 510.95 A10.3 8.2 0 0 0 491.70 509.30 Z" fill="#84bfc3"/>
<path d="M497.90 505.95 A10.3 8.2 0 0 1 502.00 512.50 L502.00 517.50 A10.3 8.2 0 0 0 497.90 510.95 Z" fill="#dc8d4e"/>
<path d="M481.40 512.50 A10.3 8.2 0 0 1 491.70 504.30 L491.70 509.30 A10.3 8.2 0 0 0 481.40 517.50 Z" fill="#cc5a40"/>
<clipPath id="hc491"><ellipse cx="491.7" cy="512.5" rx="10.3" ry="8.2"/></clipPath>
<ellipse cx="491.7" cy="517.5" rx="10.3" ry="8.2" fill="#fff" clip-path="url(#hc491)"/>
<path d="M404 500 L415 493" fill="none" stroke="#a9d8fc" stroke-width="0.4"/>
<text x="418.0" y="494.5" font-size="3.2" fill="#333" textLength="11.0" lengthAdjust="spacingAndGlyphs">ข้อมูลกลาง</text>
<text x="418.0" y="498.5" font-size="3.2" fill="#333" textLength="10.0" lengthAdjust="spacingAndGlyphs">25.00%</text>
<path d="M366 526 L357 530" fill="none" stroke="#fbbdca" stroke-width="0.4"/>
<text x="352.0" y="529.5" font-size="3.2" fill="#333" textLength="9.0" lengthAdjust="spacingAndGlyphs">ข้อมูลอื่น</text>
<text x="352.0" y="533.5" font-size="3.2" fill="#333" textLength="10.0" lengthAdjust="spacingAndGlyphs">75.00%</text>
<path d="M500 497 L513 490" fill="none" stroke="#9fd7da" stroke-width="0.4"/>
<text x="514.0" y="489.0" font-size="3.2" fill="#333" textLength="8.0" lengthAdjust="spacingAndGlyphs">วารสาร</text>
<text x="514.0" y="493.0" font-size="3.2" fill="#333" textLength="9.0" lengthAdjust="spacingAndGlyphs">10.00%</text>
<path d="M475 503 L465 499" fill="none" stroke="#e4694c" stroke-width="0.4"/>
<text x="451.0" y="498.0" font-size="3.2" fill="#333" textLength="12.0" lengthAdjust="spacingAndGlyphs">ผลงานสร้างสรรค์</text>
<text x="451.0" y="502.0" font-size="3.2" fill="#333" textLength="9.0" lengthAdjust="spacingAndGlyphs">31.00%</text>
<path d="M511 526 L520 530" fill="none" stroke="#f0a05c" stroke-width="0.4"/>
<text x="520.0" y="529.5" font-size="3.2" fill="#333" textLength="8.0" lengthAdjust="spacingAndGlyphs">ประชุม</text>
<text x="520.0" y="533.5" font-size="3.2" fill="#333" textLength="9.0" lengthAdjust="spacingAndGlyphs">57.00%</text>
<rect x="560.8" y="470.7" width="67.5" height="0.4" fill="#eaeaea"/>
<text x="558.0" y="471.9" font-size="3" fill="#666" text-anchor="end">20</text>
<rect x="560.8" y="485.5" width="67.5" height="0.4" fill="#eaeaea"/>
<text x="558.0" y="486.7" font-size="3" fill="#666" text-anchor="end">15</text>
<rect x="560.8" y="500.3" width="67.5" height="0.4" fill="#eaeaea"/>
<text x="558.0" y="501.5" font-size="3" fill="#666" text-anchor="end">10</text>
<rect x="560.8" y="515.1" width="67.5" height="0.4" fill="#eaeaea"/>
<text x="558.0" y="516.3" font-size="3" fill="#666" text-anchor="end">5</text>
<text x="558.0" y="531.3" font-size="3" fill="#666" text-anchor="end">0</text>
<rect x="560.8" y="529.8" width="67.5" height="0.6" fill="#999"/>
<rect x="565.9" y="486.1" width="8.2" height="43.9" fill="#a3d9d9"/>
<rect x="582.7" y="509.6" width="8.2" height="20.4" fill="#f0a05a"/>
<rect x="599.7" y="474.2" width="8.2" height="55.8" fill="#e4664a"/>
<rect x="616.5" y="480.3" width="8.2" height="49.7" fill="#bfe0e4"/>
<text x="570.0" y="536.5" font-size="3.1" fill="#666" text-anchor="middle">2565</text>
<text x="586.9" y="536.5" font-size="3.1" fill="#666" text-anchor="middle">2566</text>
<text x="603.7" y="536.5" font-size="3.1" fill="#666" text-anchor="middle">2567</text>
<text x="620.5" y="536.5" font-size="3.1" fill="#666" text-anchor="middle">2568</text>
<text x="594.0" y="541.8" font-size="3.1" fill="#888" text-anchor="middle" textLength="9.0" lengthAdjust="spacingAndGlyphs">ปีผลงาน</text>
<text x="551.0" y="500.0" font-size="3" fill="#999" text-anchor="middle" textLength="14.0" lengthAdjust="spacingAndGlyphs" transform="rotate(-90 551 500)">จำนวนผลงาน</text>
</g>
<g id="thumbC" filter="url(#soft)">
<rect x="648.2" y="399.5" width="1.2" height="2.0" fill="#f7941d"/>
<rect x="649.6" y="398.2" width="1.2" height="3.3" fill="#f7941d"/>
<rect x="651.0" y="396.9" width="1.4" height="4.6" fill="#f7941d"/>
<text x="654.0" y="401.2" font-size="5.2" fill="#333" font-weight="bold" textLength="60.5" lengthAdjust="spacingAndGlyphs">ข้อมูลบุคลากรศึกษา ปีการศึกษา All</text>
<rect x="648.2" y="405.6" width="23.7" height="5.2" fill="#fff" rx="0.8" stroke="#d8d8d8" stroke-width="0.5"/>
<text x="649.7" y="409.2" font-size="3" fill="#999" textLength="12.0" lengthAdjust="spacingAndGlyphs">--ทั้งหมด--</text>
<path d="M668.9 407.6 l0.8 0.8 l0.8 -0.8" fill="none" stroke="#666" stroke-width="0.4"/>
<rect x="673.6" y="405.6" width="83.5" height="5.2" fill="#fff" rx="0.8" stroke="#d8d8d8" stroke-width="0.5"/>
<text x="675.1" y="409.2" font-size="3" fill="#999" textLength="12.0" lengthAdjust="spacingAndGlyphs">--ทั้งหมด--</text>
<path d="M754.1 407.6 l0.8 0.8 l0.8 -0.8" fill="none" stroke="#666" stroke-width="0.4"/>
<rect x="758.7" y="405.6" width="23.8" height="5.2" fill="#fff" rx="0.8" stroke="#d8d8d8" stroke-width="0.5"/>
<text x="760.2" y="409.2" font-size="3" fill="#999" textLength="12.0" lengthAdjust="spacingAndGlyphs">--ทั้งหมด--</text>
<path d="M779.5 407.6 l0.8 0.8 l0.8 -0.8" fill="none" stroke="#666" stroke-width="0.4"/>
<rect x="783.6" y="405.4" width="9.5" height="5.6" fill="#e9e9e9" rx="0.8" stroke="#aaa" stroke-width="0.5"/>
<text x="788.3" y="409.3" font-size="3" fill="#333" text-anchor="middle" textLength="6.0" lengthAdjust="spacingAndGlyphs">ค้นหา</text>
<rect x="651.8" y="416.5" width="64.3" height="35.1" fill="#ececec" rx="3.5"/>
<rect x="651.5" y="415.8" width="64.3" height="35.1" fill="#a3d9d0" rx="3.5"/>
<text x="683.6" y="433.0" font-size="3.1" fill="#fff" text-anchor="middle" textLength="48.7" lengthAdjust="spacingAndGlyphs" opacity="0.85">จำนวนนักศึกษาทั้งหมด (ปีการศึกษา All)</text>
<text x="683.6" y="443.2" font-size="8.6" fill="#fff" text-anchor="middle" font-weight="bold" textLength="12.0" lengthAdjust="spacingAndGlyphs">125</text>
<rect x="722.7" y="416.5" width="64.3" height="35.1" fill="#ececec" rx="3.5"/>
<rect x="722.4" y="415.8" width="64.3" height="35.1" fill="#f6c6df" rx="3.5"/>
<text x="754.5" y="433.0" font-size="3.1" fill="#fff" text-anchor="middle" textLength="39.6" lengthAdjust="spacingAndGlyphs" opacity="0.85">จำนวนหอพักทั้งหมด (ปีการศึกษา All)</text>
<text x="754.5" y="443.2" font-size="8.6" fill="#fff" text-anchor="middle" font-weight="bold" textLength="4.6" lengthAdjust="spacingAndGlyphs">2</text>
<rect x="793.7" y="416.5" width="64.3" height="35.1" fill="#ececec" rx="3.5"/>
<rect x="793.4" y="415.8" width="64.3" height="35.1" fill="#f9e59e" rx="3.5"/>
<text x="825.5" y="433.0" font-size="3.1" fill="#333" text-anchor="middle" textLength="42.0" lengthAdjust="spacingAndGlyphs" opacity="0.85">จำนวนทุนทั้งหมด (ปีการศึกษา All)</text>
<text x="825.5" y="443.2" font-size="8.6" fill="#333" text-anchor="middle" font-weight="bold" textLength="38.5" lengthAdjust="spacingAndGlyphs">400,000.00</text>
<rect x="864.6" y="416.5" width="64.3" height="35.1" fill="#ececec" rx="3.5"/>
<rect x="864.3" y="415.8" width="64.3" height="35.1" fill="#d8c0f3" rx="3.5"/>
<text x="896.4" y="433.0" font-size="3.1" fill="#fff" text-anchor="middle" textLength="47.0" lengthAdjust="spacingAndGlyphs" opacity="0.85">จำนวนทุนที่ให้บริการ (ปีการศึกษา All)</text>
<text x="896.4" y="443.2" font-size="8.6" fill="#fff" text-anchor="middle" font-weight="bold" textLength="8.5" lengthAdjust="spacingAndGlyphs">36</text>
<path d="M679.6 423.5 L683.6 421.3 L687.6 423.5 L683.6 425.7 Z" fill="#fff"/>
<path d="M681.1 424.6 v2 q2.5 1.5 5 0 v-2 L683.6 426 Z" fill="#fff"/>
<path d="M750.3 424.8 L754.5 420.8 L758.8 424.8 L757.5 424.8 L757.5 428.5 L751.5 428.5 L751.5 424.8 Z" fill="#fff"/>
<rect x="822.3" y="424.0" width="2.8" height="2.5" fill="#333"/>
<rect x="825.9" y="424.0" width="2.8" height="2.5" fill="#333"/>
<rect x="822.3" y="426.9" width="2.8" height="1.8" fill="#333"/>
<rect x="825.9" y="426.9" width="2.8" height="1.8" fill="#333"/>
<path d="M825.5 423.5 q-3 -3 -3 0 M825.5 423.5 q3 -3 3 0" fill="none" stroke="#333" stroke-width="0.6"/>
<rect x="892.6" y="421.0" width="7.6" height="7.6" fill="none" stroke="#fff" stroke-width="0.8"/>
<rect x="892.6" y="421.0" width="7.6" height="1.6" fill="#fff"/>
<rect x="894.4" y="425.0" width="4.0" height="1.6" fill="none" stroke="#fff" stroke-width="0.4"/>
<rect x="647.4" y="454.9" width="284.2" height="90.1" fill="#f5f5f5"/>
<rect x="653.4" y="457.4" width="133.5" height="85.1" fill="#fff"/>
<rect x="793.1" y="457.4" width="134.1" height="85.8" fill="#fff"/>
<text x="719.8" y="462.0" font-size="3.6" fill="#333" text-anchor="middle" font-weight="bold" textLength="64.0" lengthAdjust="spacingAndGlyphs">จำนวนนักศึกษาที่ได้รับทุน ประเภททุนการศึกษา</text>
<rect x="780.5" y="460.2" width="3.2" height="0.9" fill="#444"/>
<text x="860.2" y="462.4" font-size="4.2" fill="#333" text-anchor="middle" font-weight="bold" textLength="44.4" lengthAdjust="spacingAndGlyphs">ยอดรวมงบประมาณทุน</text>
<rect x="920.5" y="460.8" width="3.2" height="0.9" fill="#444"/>
<path d="M753.70 503.70 A33.8 24.3 0 0 1 705.62 525.72 L705.62 529.32 A33.8 24.3 0 0 0 753.70 507.30 Z" fill="#8dbcd9"/>
<path d="M705.62 525.72 A33.8 24.3 0 0 1 686.10 503.70 L686.10 507.30 A33.8 24.3 0 0 0 705.62 529.32 Z" fill="#e3a2a5"/>
<path d="M719.9 503.7 L719.90 479.40 A33.8 24.3 0 1 1 705.62 525.72 Z" fill="#a5d5f0"/>
<path d="M719.9 503.7 L705.62 525.72 A33.8 24.3 0 0 1 719.90 479.40 Z" fill="#fcbcbe"/>
<path d="M686 497 L681 496" fill="none" stroke="#fcbcbe" stroke-width="0.4"/>
<text x="658.0" y="495.5" font-size="3" fill="#333" textLength="10.0" lengthAdjust="spacingAndGlyphs">ทุนภายใน</text>
<text x="658.0" y="498.8" font-size="3" fill="#333" textLength="18.0" lengthAdjust="spacingAndGlyphs">35 คน (43.21%)</text>
<path d="M754 510 L762 510.5" fill="none" stroke="#a5d5f0" stroke-width="0.4"/>
<text x="763.0" y="509.5" font-size="3" fill="#333" textLength="12.0" lengthAdjust="spacingAndGlyphs">ทุนภายนอก</text>
<text x="763.0" y="512.8" font-size="3" fill="#333" textLength="18.0" lengthAdjust="spacingAndGlyphs">46 คน (56.79%)</text>
<path d="M828.3 470.40 L913 472.90" fill="none" stroke="#e8e8e8" stroke-width="0.4"/>
<path d="M828.3 477.80 L913 480.90" fill="none" stroke="#e8e8e8" stroke-width="0.4"/>
<path d="M828.3 485.20 L913 488.90" fill="none" stroke="#e8e8e8" stroke-width="0.4"/>
<path d="M828.3 492.60 L913 496.90" fill="none" stroke="#e8e8e8" stroke-width="0.4"/>
<path d="M828.3 470.4 L828.3 492.6" fill="none" stroke="#e8e8e8" stroke-width="0.4"/>
<path d="M849.8 470.7 L849.8 493.1" fill="none" stroke="#e8e8e8" stroke-width="0.4"/>
<path d="M870 471 L870 493.7" fill="none" stroke="#e8e8e8" stroke-width="0.4"/>
<path d="M890.9 471.5 L890.9 494.3" fill="none" stroke="#e8e8e8" stroke-width="0.4"/>
<path d="M913 472.9 L913 496.9" fill="none" stroke="#e8e8e8" stroke-width="0.4"/>
<text x="825.2" y="471.8" font-size="2.8" fill="#666" text-anchor="end" textLength="8.0" lengthAdjust="spacingAndGlyphs">300,000</text>
<text x="825.2" y="478.8" font-size="2.8" fill="#666" text-anchor="end" textLength="8.0" lengthAdjust="spacingAndGlyphs">200,000</text>
<text x="825.2" y="486.2" font-size="2.8" fill="#666" text-anchor="end" textLength="8.0" lengthAdjust="spacingAndGlyphs">100,000</text>
<text x="825.2" y="493.2" font-size="2.8" fill="#666" text-anchor="end">0</text>
<text x="816.5" y="482.0" font-size="2.6" fill="#888" text-anchor="middle" textLength="20.0" lengthAdjust="spacingAndGlyphs" transform="rotate(-90 816.5 482)">งบประมาณ (บาท)</text>
<rect x="832.2" y="476.0" width="11.8" height="17.4" fill="#6ff5f7"/>
<rect x="843.0" y="476.5" width="1.0" height="16.9" fill="#4fd3d8"/>
<text x="838.1" y="473.8" font-size="2.8" fill="#222" text-anchor="middle" font-weight="bold" textLength="8.0" lengthAdjust="spacingAndGlyphs">300,000</text>
<rect x="852.6" y="483.6" width="11.3" height="11.0" fill="#8686f2"/>
<rect x="862.9" y="484.1" width="1.0" height="10.5" fill="#6b6bd6"/>
<text x="858.2" y="481.4" font-size="2.8" fill="#222" text-anchor="middle" font-weight="bold" textLength="8.0" lengthAdjust="spacingAndGlyphs">150,000</text>
<rect x="873.1" y="492.2" width="11.7" height="3.7" fill="#4fe59c"/>
<rect x="883.8" y="492.7" width="1.0" height="3.2" fill="#3bc582"/>
<text x="879.0" y="490.8" font-size="2.8" fill="#222" text-anchor="middle" font-weight="bold" textLength="8.0" lengthAdjust="spacingAndGlyphs">50,000</text>
<rect x="895.2" y="495.6" width="11.1" height="1.9" fill="#f5875a"/>
<rect x="905.3" y="496.1" width="1.0" height="1.4" fill="#d96d43"/>
<text x="900.8" y="494.0" font-size="2.8" fill="#222" text-anchor="middle" font-weight="bold" textLength="2.0" lengthAdjust="spacingAndGlyphs">0</text>
<path d="M836.9 497.5 L824 519" fill="none" stroke="#9a9a9a" stroke-width="0.55"/>
<path d="M857.1 498.5 L843.6 520.8" fill="none" stroke="#9a9a9a" stroke-width="0.55"/>
<path d="M877.4 500.5 L865.1 521.4" fill="none" stroke="#9a9a9a" stroke-width="0.55"/>
<path d="M899.5 501.8 L887.2 523.3" fill="none" stroke="#9a9a9a" stroke-width="0.55"/>
<text x="865.0" y="522.0" font-size="2.6" fill="#888" textLength="5.0" lengthAdjust="spacingAndGlyphs">ทุน</text>
<circle cx="858.6" cy="537" r="0.9" fill="#66f2f6"/>
<text x="860.5" y="538.0" font-size="2.8" fill="#777" textLength="12.0" lengthAdjust="spacingAndGlyphs">งบประมาณ</text>
</g>
</svg>
</body></html>
